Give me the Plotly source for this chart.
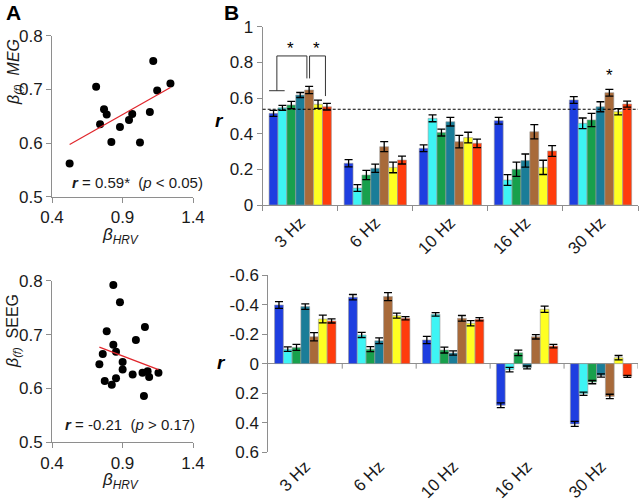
import numpy as np
import plotly.graph_objects as go

# ---------------- data ----------------
meg_hrv = [0.525, 0.713, 0.741, 0.769, 0.788, 0.821, 0.882, 0.946, 0.969, 1.024, 1.094, 1.118, 1.146, 1.240]
meg_bf = [0.562, 0.705, 0.635, 0.663, 0.653, 0.602, 0.630, 0.643, 0.654, 0.601, 0.658, 0.753, 0.698, 0.711]

seeg_hrv = [0.835, 0.882, 0.788, 1.059, 0.995, 0.760, 0.736, 0.835, 0.854, 0.901, 0.901, 0.774, 0.854,
            0.824, 0.972, 1.042, 1.078, 1.089, 1.155, 1.052]
seeg_bf = [0.792, 0.760, 0.706, 0.714, 0.690, 0.664, 0.645, 0.681, 0.668, 0.649, 0.635, 0.614, 0.619,
           0.607, 0.626, 0.629, 0.632, 0.621, 0.629, 0.586]

categories = ["3 Hz", "6 Hz", "10 Hz", "16 Hz", "30 Hz"]
series_names = ["s1", "s2", "s3", "s4", "s5", "s6", "s7"]
series_colors = ["#1e3ee0", "#3ef4f4", "#18a04c", "#1a7d98", "#a86a3a", "#ffff22", "#ff3c0c"]

meg_r = [
    [0.514, 0.234, 0.318, 0.473, 0.589],
    [0.545, 0.095, 0.486, 0.140, 0.458],
    [0.561, 0.168, 0.406, 0.200, 0.477],
    [0.617, 0.206, 0.467, 0.249, 0.551],
    [0.645, 0.327, 0.355, 0.411, 0.630],
    [0.565, 0.211, 0.378, 0.211, 0.523],
    [0.551, 0.252, 0.346, 0.303, 0.566],
]
meg_err = [
    [0.017, 0.020, 0.019, 0.019, 0.019],
    [0.014, 0.019, 0.019, 0.030, 0.030],
    [0.020, 0.026, 0.019, 0.040, 0.037],
    [0.014, 0.023, 0.024, 0.037, 0.028],
    [0.020, 0.028, 0.035, 0.040, 0.019],
    [0.023, 0.030, 0.030, 0.040, 0.017],
    [0.019, 0.022, 0.024, 0.030, 0.017],
]
seeg_r = [
    [-0.397, -0.450, -0.160, 0.282, 0.408],
    [-0.098, -0.194, -0.334, 0.040, 0.204],
    [-0.110, -0.098, -0.092, -0.073, 0.125],
    [-0.386, -0.155, -0.072, 0.026, 0.080],
    [-0.182, -0.454, -0.307, -0.182, 0.222],
    [-0.302, -0.325, -0.273, -0.368, -0.040],
    [-0.289, -0.307, -0.300, -0.119, 0.086],
]
seeg_err = [
    [0.023, 0.018, 0.025, 0.016, 0.017],
    [0.015, 0.017, 0.012, 0.015, 0.011],
    [0.020, 0.017, 0.020, 0.019, 0.011],
    [0.018, 0.019, 0.014, 0.010, 0.011],
    [0.028, 0.027, 0.019, 0.015, 0.015],
    [0.026, 0.017, 0.018, 0.021, 0.015],
    [0.014, 0.011, 0.011, 0.012, 0.007],
]
threshold_r = 0.537

# ---------------- helpers ----------------
W, H = 640, 501
FONT = "Arial, Liberation Sans, sans-serif"
GRAY = "#8e8e8e"
BARGAP = 0.17
NB = len(series_names)
BW = (1 - BARGAP) / NB


def px(x):
    return x / W


def py(y):
    return 1 - y / H


def bar_x(i, j):
    return i - (1 - BARGAP) / 2 + BW * (j + 0.5)


fig = go.Figure()

# ---------- Panel A scatter ----------
for xs, ys, xa, ya in [(meg_hrv, meg_bf, "x", "y"), (seeg_hrv, seeg_bf, "x2", "y2")]:
    fig.add_trace(go.Scatter(x=xs, y=ys, mode="markers", xaxis=xa, yaxis=ya,
                             marker=dict(color="black", size=8), hoverinfo="skip"))
    k, b = np.polyfit(xs, ys, 1)
    lx = np.array([min(xs), max(xs)])
    fig.add_trace(go.Scatter(x=lx, y=k * lx + b, mode="lines", xaxis=xa, yaxis=ya,
                             line=dict(color="#e0252b", width=1.2), hoverinfo="skip"))

# ---------- Panel B bars ----------
for j in range(NB):
    fig.add_trace(go.Bar(x=categories, y=meg_r[j], name=series_names[j], xaxis="x3", yaxis="y3",
                         marker=dict(color=series_colors[j], line=dict(color="#9a9a9a", width=0.6)),
                         error_y=dict(type="data", array=meg_err[j], color="black", thickness=1.3, width=4)))
for j in range(NB):
    fig.add_trace(go.Bar(x=categories, y=seeg_r[j], name=series_names[j], xaxis="x4", yaxis="y4",
                         marker=dict(color=series_colors[j], line=dict(color="#9a9a9a", width=0.6)),
                         error_y=dict(type="data", array=seeg_err[j], color="black", thickness=1.3, width=4)))

axis_common = dict(showline=True, linecolor=GRAY, linewidth=1, ticks="outside", ticklen=5,
                   tickcolor=GRAY, showgrid=False, zeroline=False, automargin=False,
                   tickfont=dict(family=FONT, size=17, color="#1a1a1a"), fixedrange=True)

fig.update_layout(
    width=W, height=H, margin=dict(l=0, r=0, t=0, b=0, pad=0, autoexpand=False),
    paper_bgcolor="white", plot_bgcolor="white", showlegend=False,
    barmode="group", bargap=BARGAP, bargroupgap=0,
    xaxis=dict(axis_common, domain=[px(52), px(193)], range=[0.4, 1.4], tickvals=[0.4, 0.9, 1.4],
               ticktext=["0.4", "0.9", "1.4"], anchor="y"),
    yaxis=dict(axis_common, domain=[py(196.7), py(35.7)], range=[0.5, 0.8],
               tickvals=[0.5, 0.6, 0.7, 0.8], ticktext=["0.5", "0.6", "0.7", "0.8"], anchor="x"),
    xaxis2=dict(axis_common, domain=[px(52), px(193)], range=[0.4, 1.4], tickvals=[0.4, 0.9, 1.4],
                ticktext=["0.4", "0.9", "1.4"], anchor="y2"),
    yaxis2=dict(axis_common, domain=[py(442.3), py(280.7)], range=[0.5, 0.8],
                tickvals=[0.5, 0.6, 0.7, 0.8], ticktext=["0.5", "0.6", "0.7", "0.8"], anchor="x2"),
    xaxis3=dict(axis_common, domain=[px(262.7), px(638)], type="category", tickson="boundaries",
                tickangle=-45, anchor="y3", range=[-0.5, len(categories) - 0.5]),
    yaxis3=dict(axis_common, domain=[py(205), py(26.7)], range=[0, 1],
                tickvals=[0, 0.2, 0.4, 0.6, 0.8, 1], ticktext=["0", "0.2", "0.4", "0.6", "0.8", "1"],
                anchor="x3"),
    xaxis4=dict(axis_common, domain=[px(268.3), px(638)], type="category", showline=False, ticks="",
                tickangle=-45, anchor="y4", range=[-0.5, len(categories) - 0.5]),
    yaxis4=dict(axis_common, domain=[py(452.3), py(275)], range=[0.6, -0.6],
                tickvals=[-0.6, -0.4, -0.2, 0, 0.2, 0.4, 0.6],
                ticktext=["-0.6", "-0.4", "-0.2", "0", "0.2", "0.4", "0.6"],
                zeroline=True, zerolinecolor=GRAY, zerolinewidth=1, anchor="x4"),
)

shapes = []
# threshold dotted line
shapes.append(dict(type="line", xref="x3 domain", x0=0, x1=1, yref="y3", y0=threshold_r, y1=threshold_r,
                   line=dict(color="black", width=1, dash="3px,2px")))
# boundary ticks on zero line in lower bar panel
for i in range(len(categories)):
    shapes.append(dict(type="line", xref="x4", x0=i + 0.5, x1=i + 0.5, yref="y4", ysizemode="pixel",
                       yanchor=0, y0=0, y1=-5, line=dict(color=GRAY, width=1)))

# significance brackets (3 Hz group)
top_y = 0.836
leg_a = bar_x(0, 0) - BW / 2
leg_a2 = bar_x(0, 1) + BW / 4
xa1 = (leg_a + leg_a2) / 2
xb1 = bar_x(0, 4) - BW / 4
xa2 = bar_x(0, 4) + BW / 20
xb2 = bar_x(0, 6) - BW / 6
bracket_lines = [
    (leg_a, 0.641, leg_a2, 0.641),
    (xa1, 0.641, xa1, top_y), (xa1, top_y, xb1, top_y), (xb1, top_y, xb1, 0.71),
    (xa2, 0.71, xa2, top_y), (xa2, top_y, xb2, top_y), (xb2, top_y, xb2, 0.611),
]
for x0, y0, x1, y1 in bracket_lines:
    shapes.append(dict(type="line", xref="x3", yref="y3", x0=x0, y0=y0, x1=x1, y1=y1,
                       line=dict(color="#333333", width=1)))
fig.update_layout(shapes=shapes)

ann = []


def add_text(x, y, text, size, xref="paper", yref="paper", angle=0, color="#1a1a1a"):
    ann.append(dict(x=x, y=y, xref=xref, yref=yref, text=text, showarrow=False, textangle=angle,
                    xanchor="center", yanchor="middle", font=dict(family=FONT, size=size, color=color)))


# stars
for sx, sy in [((xa1 + xb1) / 2 - 0.02, 0.875), ((xa2 + xb2) / 2 - 0.02, 0.875), (bar_x(4, 4), 0.725)]:
    add_text(sx, sy, "*", 17, xref="x3", yref="y3", color="black")

# panel letters
add_text(px(13), py(12.5), "<b>A</b>", 21, color="black")
add_text(px(231), py(12.5), "<b>B</b>", 21, color="black")
# r labels
add_text(px(219), py(120), "<b><i>r</i></b>", 19, color="black")
add_text(px(221), py(362), "<b><i>r</i></b>", 19, color="black")
# y titles panel A
add_text(px(14), py(72), "<i>β</i><sub><i>(f)</i></sub>  <i>MEG</i>", 16, angle=-90)
add_text(px(13), py(331), "<i>β</i><sub><i>(f)</i></sub>  SEEG", 16, angle=-90)
# x titles panel A
for yy in [236, 481]:
    add_text(px(120), py(yy), "<i>β</i><sub><i>HRV</i></sub>", 17)
# statistics text
add_text(px(137), py(182), "<b><i>r</i></b> = 0.59*  (<i>p</i> &lt; 0.05)", 15)
add_text(px(130), py(424), "<b><i>r</i></b> = -0.21  (<i>p</i> &gt; 0.17)", 15)
fig.update_layout(annotations=ann)

fig.write_html("out.html", config={"displayModeBar": False},
               post_script="document.body.style.margin='0';document.body.style.overflow='hidden';")
